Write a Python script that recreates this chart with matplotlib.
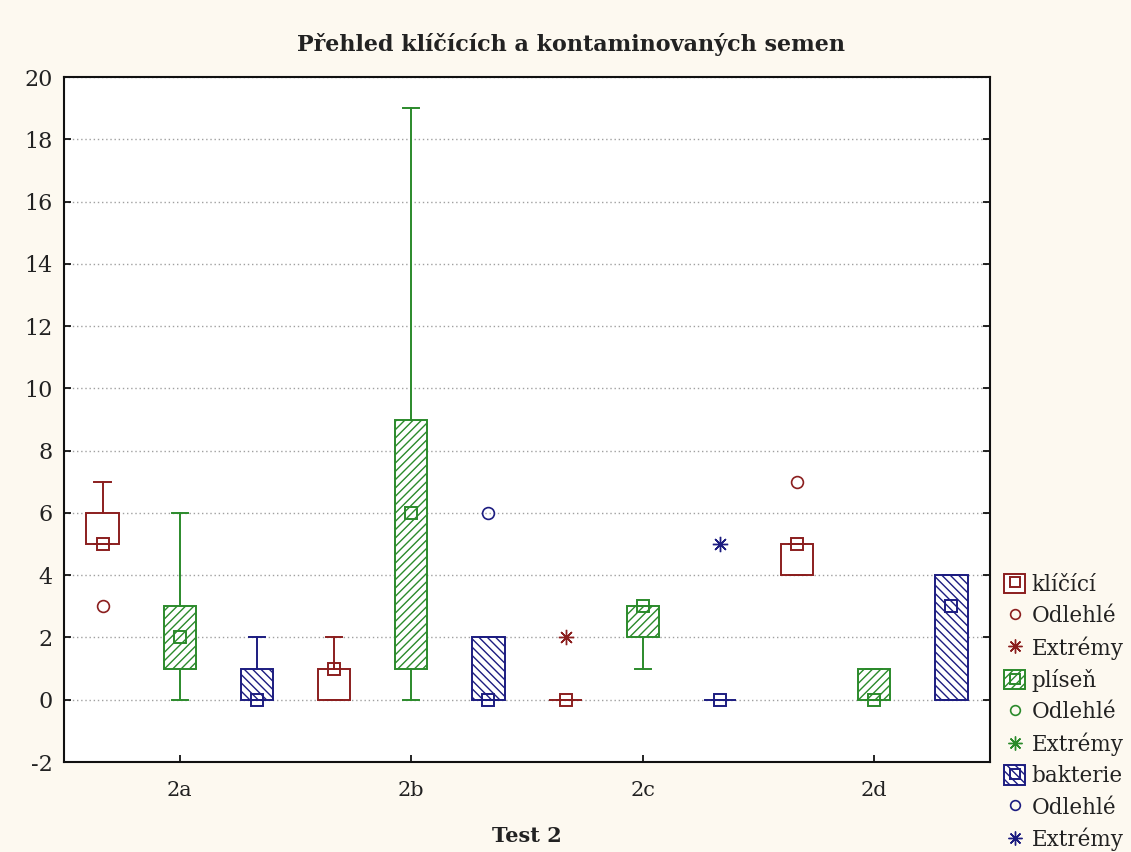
import matplotlib
matplotlib.use("Agg")
import matplotlib.pyplot as plt
from matplotlib.lines import Line2D
from matplotlib.patches import Rectangle
from matplotlib.legend_handler import HandlerTuple

plt.rcParams["font.family"] = ["DejaVu Serif"]
plt.rcParams["hatch.linewidth"] = 1.0
plt.rcParams["axes.unicode_minus"] = False

skupiny = ["2a", "2b", "2c", "2d"]

# klíčící semena
klicici_q1 = [5, 0, 0, 4]
klicici_med = [5, 1, 0, 5]
klicici_q3 = [6, 1, 0, 5]
klicici_min = [5, 0, 0, 4]
klicici_max = [7, 2, 0, 5]
klicici_odlehle = [[3], [], [], [7]]
klicici_extremy = [[], [], [2], []]

# plíseň
plisen_q1 = [1, 1, 2, 0]
plisen_med = [2, 6, 3, 0]
plisen_q3 = [3, 9, 3, 1]
plisen_min = [0, 0, 1, 0]
plisen_max = [6, 19, 3, 1]
plisen_odlehle = [[], [], [], []]
plisen_extremy = [[], [], [], []]

# bakterie
bakterie_q1 = [0, 0, 0, 0]
bakterie_med = [0, 0, 0, 3]
bakterie_q3 = [1, 2, 0, 4]
bakterie_min = [0, 0, 0, 0]
bakterie_max = [2, 2, 0, 4]
bakterie_odlehle = [[], [6], [], []]
bakterie_extremy = [[], [], [5], []]

serie = [
    ("klíčící", "#8b1e1e", None,
     klicici_q1, klicici_med, klicici_q3, klicici_min, klicici_max,
     klicici_odlehle, klicici_extremy),
    ("plíseň", "#2b8a2b", "////",
     plisen_q1, plisen_med, plisen_q3, plisen_min, plisen_max,
     plisen_odlehle, plisen_extremy),
    ("bakterie", "#1c1c80", "\\\\\\\\",
     bakterie_q1, bakterie_med, bakterie_q3, bakterie_min, bakterie_max,
     bakterie_odlehle, bakterie_extremy),
]

asterisk = (8, 2, 0)
lw = 1.4
sirka = 0.14
posun = [-1 / 3, 0, 1 / 3]

fig = plt.figure(figsize=(11.31, 8.52), dpi=100, facecolor="#fdf9f0")
ax = fig.add_axes([0.0566, 0.1056, 0.8187, 0.804])
ax.set_facecolor("white")

handles, labels = [], []
for k, (nazev, barva, srafa, q1, med, q3, lo, hi, odl, ext) in enumerate(serie):
    pozice = [i + posun[k] for i in range(len(skupiny))]
    stats = [{"q1": q1[i], "med": med[i], "q3": q3[i],
              "whislo": lo[i], "whishi": hi[i], "fliers": []}
             for i in range(len(skupiny))]
    ax.bxp(stats, positions=pozice, widths=sirka, capwidths=sirka * 0.5,
           patch_artist=True, showfliers=False,
           boxprops=dict(facecolor="white", edgecolor=barva, hatch=srafa, linewidth=lw),
           whiskerprops=dict(color=barva, linewidth=lw),
           capprops=dict(color=barva, linewidth=lw),
           medianprops=dict(linewidth=0), zorder=3)
    ax.plot(pozice, med, ls="none", marker="s", ms=8, mfc="none", mec=barva,
            mew=lw, zorder=4)
    for i, p in enumerate(pozice):
        if odl[i]:
            ax.plot([p] * len(odl[i]), odl[i], ls="none", marker="o", ms=8.5,
                    mfc="none", mec=barva, mew=1.2, zorder=4)
        if ext[i]:
            ax.plot([p] * len(ext[i]), ext[i], ls="none", marker=asterisk, ms=11,
                    mec=barva, mew=1.0, zorder=4)

    box_h = (Rectangle((0, 0), 1, 1, facecolor="white", edgecolor=barva,
                       hatch=srafa, linewidth=lw),
             Line2D([], [], ls="none", marker="s", ms=7, mfc="none", mec=barva, mew=lw))
    handles += [box_h,
                Line2D([], [], ls="none", marker="o", ms=7, mfc="none", mec=barva, mew=1.2),
                Line2D([], [], ls="none", marker=asterisk, ms=10, mec=barva, mew=1.0)]
    labels += [nazev, "Odlehlé", "Extrémy"]

ax.set_xlim(-0.5, 3.5)
ax.set_ylim(-2, 20)
ax.set_xticks(range(len(skupiny)))
ax.set_xticklabels(skupiny)
ax.set_yticks(range(-2, 21, 2))
ax.tick_params(axis="y", direction="in", left=True, right=True, length=5,
               width=1.2, labelsize=16, pad=8, labelcolor="#222222")
ax.tick_params(axis="x", direction="in", bottom=True, top=False, length=5,
               width=1.2, labelsize=15, pad=14, labelcolor="#222222")
ax.yaxis.grid(True, color="#a0a0a0", linestyle=(0, (1, 2)), linewidth=1.0)
ax.set_axisbelow(True)
for s in ax.spines.values():
    s.set_linewidth(1.5)
    s.set_color("#111111")

fig.text(0.505, 1 - 44 / 852, "Přehled klíčících a kontaminovaných semen",
         ha="center", va="center", fontsize=16, fontweight="bold", color="#222222")
fig.text(527 / 1131, 1 - 836 / 852, "Test 2", ha="center", va="center",
         fontsize=15, fontweight="bold", color="#222222")

fig.legend(handles, labels, loc="upper left",
           bbox_to_anchor=(993 / 1131, 1 - 563 / 852),
           frameon=False, borderpad=0, handlelength=1.0, handleheight=1.0,
           handletextpad=0.3, labelspacing=0.43, fontsize=15.5,
           labelcolor="#222222",
           handler_map={tuple: HandlerTuple(ndivide=1)})

fig.savefig("out.png", dpi=100, facecolor=fig.get_facecolor())
